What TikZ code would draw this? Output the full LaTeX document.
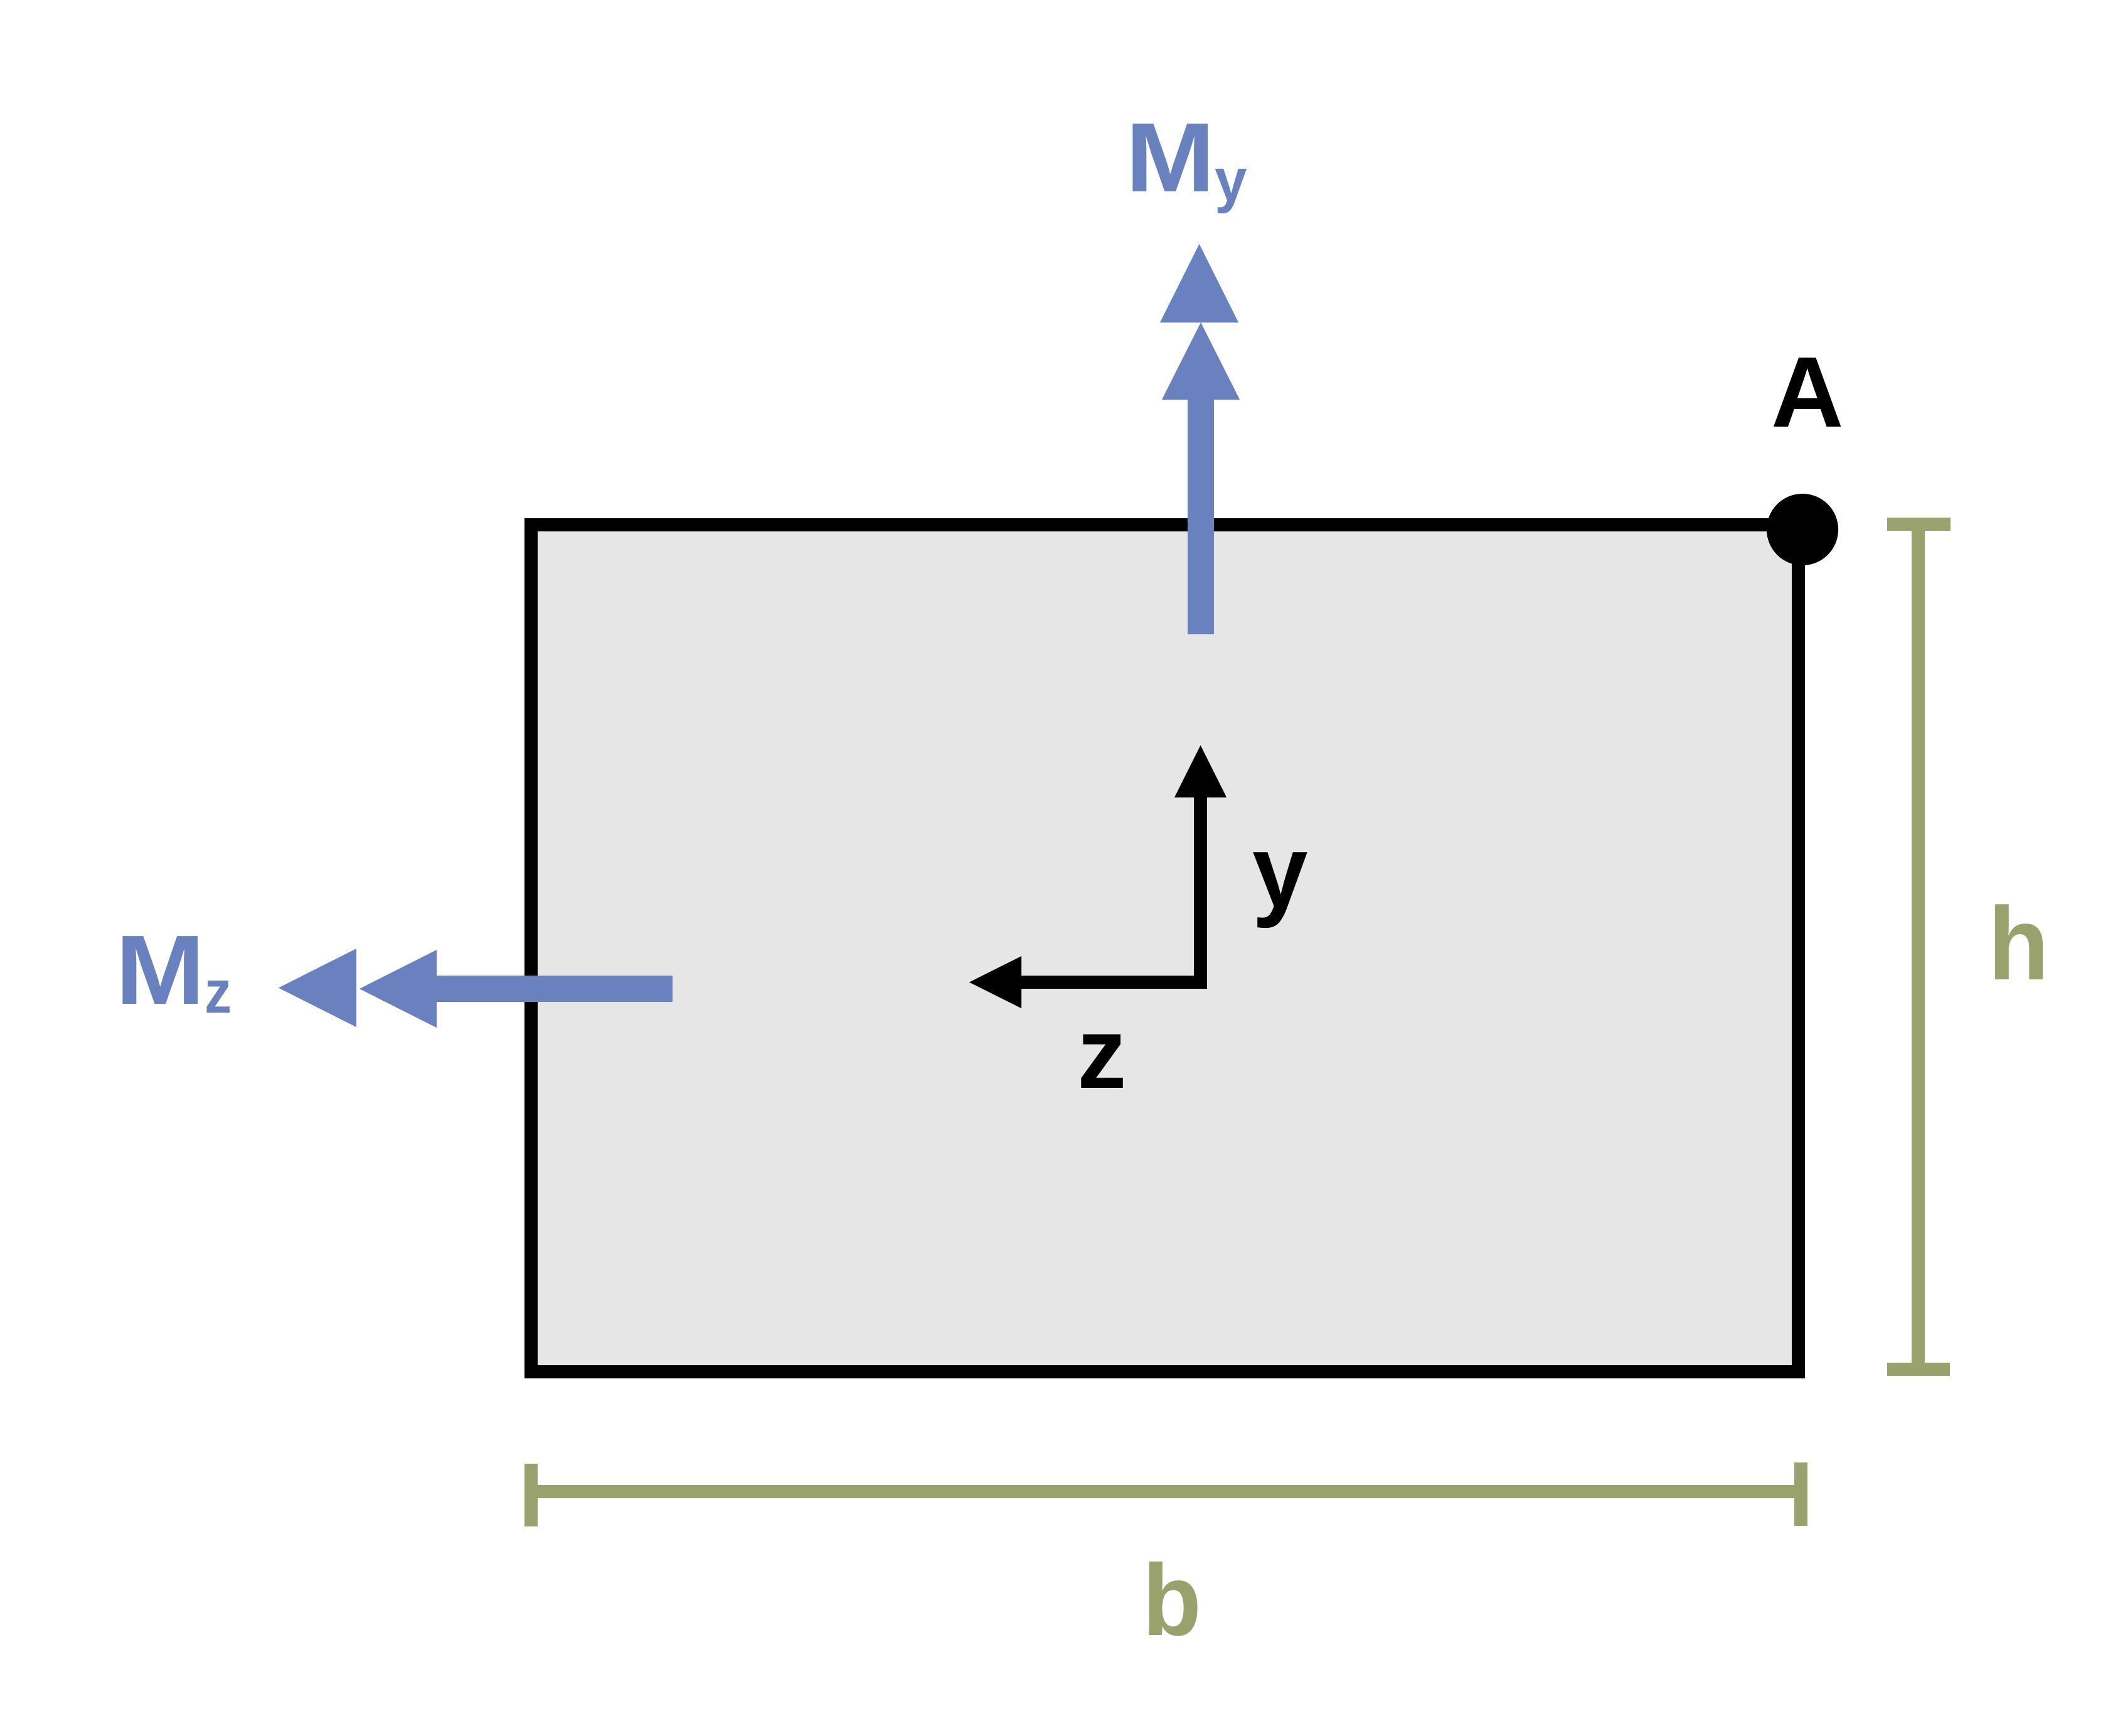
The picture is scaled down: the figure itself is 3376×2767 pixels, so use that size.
\documentclass[tikz,border=0pt]{standalone}
\usepackage{fontspec}
\setmainfont{Liberation Sans}
\usetikzlibrary{arrows.meta}
\definecolor{forceblue}{HTML}{6981BE}
\definecolor{dimolive}{HTML}{99A26D}
\definecolor{sectiongrey}{HTML}{E6E6E6}
\newcommand{\fsz}[1]{\fontsize{#1}{#1}\selectfont\bfseries}
\newcommand{\bigM}{\scalebox{1.09}[1]{M}}
\newcommand{\subtext}[2]{\raisebox{-4.2pt}{\fsz{27.5}\scalebox{#1}[1]{#2}}}
\tikzset{
  section/.style={draw=black,fill=sectiongrey,line width=0.21cm,miter limit=10},
  forcearrow/.style={draw=forceblue,line width=0.42cm,-{Triangle[length=1.23cm,width=1.24cm,line width=0pt,fill=forceblue]}},
  forcehead/.style={fill=forceblue,draw=none},
  axisarrow/.style={draw=black,line width=0.21cm,miter limit=10,{Triangle[length=0.83cm,width=0.83cm,line width=0pt,fill=black]}-{Triangle[length=0.83cm,width=0.83cm,line width=0pt,fill=black]}},
  dimline/.style={draw=dimolive,line width=0.21cm},
  label/.style={inner sep=0pt,outer sep=0pt,anchor=base},
  forcelabel/.style={inner sep=0pt,outer sep=0pt,text=forceblue,anchor=base west,font=\fsz{44.6}},
  dimlabel/.style={label,text=dimolive},
  pointdot/.style={circle,fill=black,draw=none,minimum size=1.14cm,inner sep=0pt}
}
\begin{document}
\begin{tikzpicture}[x=0.01cm,y=-0.01cm]
\useasboundingbox[fill=white] (0,0) rectangle (3376,2767);

% section
\coordinate (tl) at (846.5,836.5);
\coordinate (br) at (2866.5,2186.5);
\draw[section] (tl) rectangle (br);
\node[pointdot] (ptA) at (2873,844) {};
\node[label,font=\fsz{45.5},xscale=1.0] (lblA) at (2881,680) {A};

% My
\coordinate (myS) at (1914,1011);
\coordinate (myE) at (1914,514);
\draw[forcearrow] (myS) -- (myE);
\coordinate (myA) at (1911.5,389);
\coordinate (myB) at (1849,514);
\coordinate (myC) at (1974,514);
\fill[forcehead] (myA) -- (myB) -- (myC) -- cycle;
\node[forcelabel] (lblMy) at (1794,306) {\bigM\subtext{0.96}{y}};

% Mz
\coordinate (mzS) at (1072,1576);
\coordinate (mzE) at (573,1576);
\draw[forcearrow] (mzS) -- (mzE);
\coordinate (mzA) at (444,1574.5);
\coordinate (mzB) at (568,1512);
\coordinate (mzC) at (568,1637);
\fill[forcehead] (mzA) -- (mzB) -- (mzC) -- cycle;
\node[forcelabel] (lblMz) at (184,1600) {\bigM\subtext{0.89}{z}};

% axes
\coordinate (ztip) at (1545,1565.5);
\coordinate (corner) at (1913.5,1565.5);
\coordinate (ytip) at (1913.5,1188);
\draw[axisarrow] (ztip) -- (corner) -- (ytip);
\node[label,font=\fsz{46.7},xscale=0.97] (lbly) at (2041,1445) {y};
\node[label,font=\fsz{46},xscale=0.97] (lblz) at (1757,1734) {z};

% dimension h
\coordinate (hT) at (3057.5,835.5);
\coordinate (hB) at (3057.5,2182.5);
\coordinate (hTl) at (3008,835.5);
\coordinate (hTr) at (3109,835.5);
\coordinate (hBl) at (3008,2182.5);
\coordinate (hBr) at (3108,2182.5);
\draw[dimline] (hT) -- (hB);
\draw[dimline] (hTl) -- (hTr);
\draw[dimline] (hBl) -- (hBr);
\node[dimlabel,font=\fsz{47},xscale=0.96] (lblh) at (3218,1561) {h};

% dimension b
\coordinate (bL) at (846.5,2377.5);
\coordinate (bR) at (2870.5,2377.5);
\coordinate (bLt) at (846.5,2333);
\coordinate (bLb) at (846.5,2433);
\coordinate (bRt) at (2870.5,2331);
\coordinate (bRb) at (2870.5,2432);
\draw[dimline] (bL) -- (bR);
\draw[dimline] (bLt) -- (bLb);
\draw[dimline] (bRt) -- (bRb);
\node[dimlabel,font=\fsz{46},xscale=0.95] (lblb) at (1868,2606) {b};
\end{tikzpicture}
\end{document}
